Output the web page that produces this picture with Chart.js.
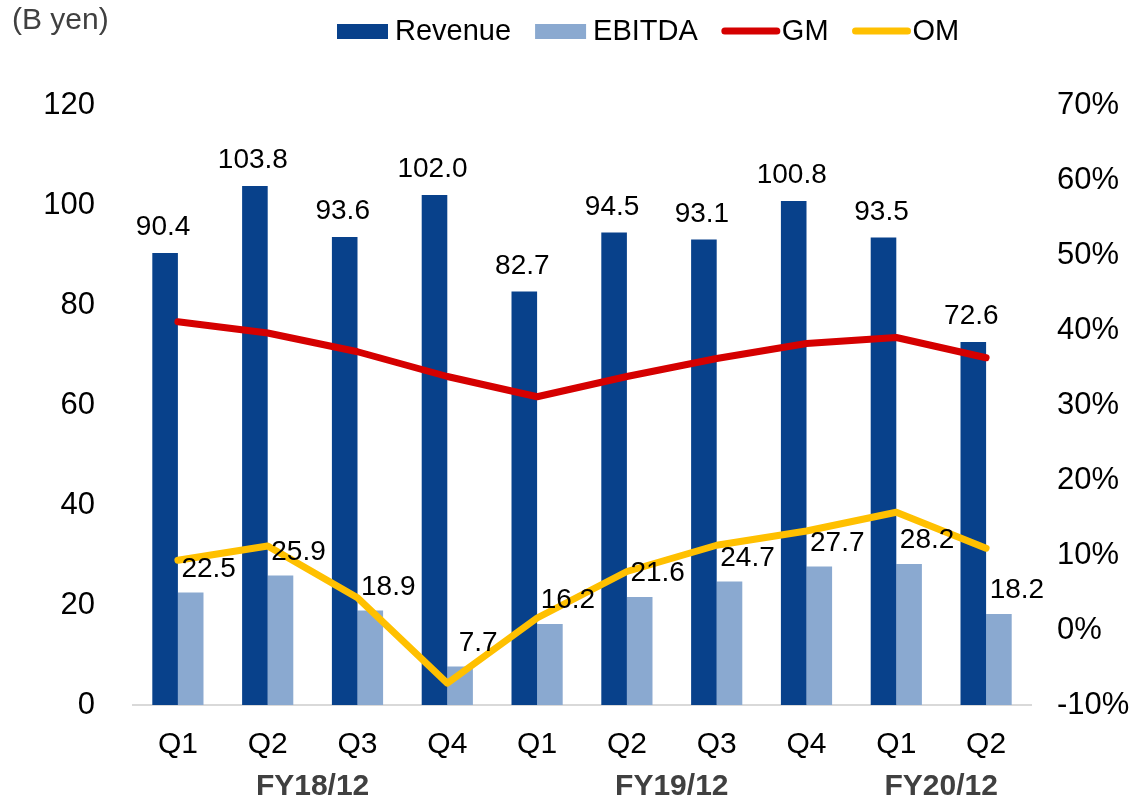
<!DOCTYPE html>
<html>
<head>
<meta charset="utf-8">
<script src="https://cdn.jsdelivr.net/npm/chart.js@4"></script>
<style>
  html, body { margin: 0; padding: 0; background: #fff; }
  #wrap { width: 1137px; height: 800px; position: relative; }
</style>
</head>
<body>
<div id="wrap"><canvas id="myChart" width="1137" height="800"></canvas></div>
<script>
// data
var quarters = ["Q1", "Q2", "Q3", "Q4", "Q1", "Q2", "Q3", "Q4", "Q1", "Q2"];
var fyNames = ["FY18/12", "FY19/12", "FY20/12"];
var fyFirst = [0, 4, 8];
var fyLast = [3, 7, 9];
var revenue = [90.4, 103.8, 93.6, 102.0, 82.7, 94.5, 93.1, 100.8, 93.5, 72.6];
var ebitda = [22.5, 25.9, 18.9, 7.7, 16.2, 21.6, 24.7, 27.7, 28.2, 18.2];
var gm = [41.1, 39.6, 37.1, 33.8, 31.1, 33.8, 36.2, 38.2, 39.0, 36.3];
var om = [9.3, 11.2, 4.3, -7.1, 1.6, 7.8, 11.3, 13.2, 15.7, 10.9];
var leftTicks = { min: 0, max: 120, step: 20 };
var rightTicks = { min: -10, max: 70, step: 10 };

var FONT = "Arial, 'Liberation Sans', sans-serif";

// 値ラベル、凡例、年度ラベル
var extras = {
  id: 'extras',
  afterDatasetsDraw: function(chart) {
    var c = chart.ctx;
    c.save();
    c.font = "28px " + FONT;
    c.fillStyle = "#000";
    c.textAlign = "center";
    c.textBaseline = "alphabetic";
    chart.getDatasetMeta(0).data.forEach(function(bar, i) {
      c.fillText(revenue[i].toFixed(1), bar.x - 2, bar.y - 18);
    });
    chart.getDatasetMeta(1).data.forEach(function(bar, i) {
      c.fillText(ebitda[i].toFixed(1), bar.x + 18, bar.y - 16);
    });
    c.restore();
  },
  afterDraw: function(chart) {
    var c = chart.ctx;
    var xs = chart.scales.x;
    c.save();
    // (B yen)
    c.font = "30px " + FONT;
    c.fillStyle = "#404040";
    c.textBaseline = "middle";
    c.textAlign = "left";
    c.fillText("(B yen)", 12, 21);

    // legend
    c.font = "29px " + FONT;
    var x = 337, y = 31;
    chart.data.datasets.forEach(function(ds) {
      if (ds.type === 'line') {
        c.strokeStyle = ds.borderColor;
        c.lineWidth = 7;
        c.lineCap = 'round';
        c.beginPath();
        c.moveTo(x + 3, y);
        c.lineTo(x + 55, y);
        c.stroke();
        x += 60;
      } else {
        c.fillStyle = ds.backgroundColor;
        c.fillRect(x, y - 7, 51, 15);
        x += 58;
      }
      c.fillStyle = "#000";
      c.fillText(ds.label, x, y + 1);
      x += c.measureText(ds.label).width + 24;
    });

    // fiscal year labels
    c.font = "bold 30px " + FONT;
    c.fillStyle = "#404040";
    c.textAlign = "center";
    fyNames.forEach(function(name, k) {
      var cx = (xs.getPixelForValue(fyFirst[k]) + xs.getPixelForValue(fyLast[k])) / 2;
      c.fillText(name, cx, 787);
    });
    c.restore();
  }
};

var ctx = document.getElementById('myChart').getContext('2d');
var myChart = new Chart(ctx, {
  type: 'bar',
  data: {
    labels: quarters,
    datasets: [
      { label: 'Revenue', data: revenue, yAxisID: 'y', order: 1,
        backgroundColor: '#08418b', categoryPercentage: 0.57, barPercentage: 1 },
      { label: 'EBITDA', data: ebitda, yAxisID: 'y', order: 1,
        backgroundColor: '#8aa9d0', categoryPercentage: 0.57, barPercentage: 1 },
      { type: 'line', label: 'GM', data: gm, yAxisID: 'y1', order: 0,
        borderColor: '#d50000', backgroundColor: '#d50000', borderWidth: 7,
        pointRadius: 0, borderCapStyle: 'round', borderJoinStyle: 'round', tension: 0 },
      { type: 'line', label: 'OM', data: om, yAxisID: 'y1', order: 0,
        borderColor: '#ffc000', backgroundColor: '#ffc000', borderWidth: 7,
        pointRadius: 0, borderCapStyle: 'round', borderJoinStyle: 'round', tension: 0 }
    ]
  },
  options: {
    responsive: false,
    animation: false,
    layout: { padding: { top: 105, left: 0, right: 0, bottom: 0 } },
    plugins: { legend: { display: false }, tooltip: { enabled: false } },
    scales: {
      x: {
        grid: { display: false, drawTicks: false },
        border: { display: true, color: '#d9d9d9', width: 2 },
        ticks: { color: '#000', font: { size: 30, family: FONT }, padding: 22, maxRotation: 0 },
        afterFit: function(s) { s.height = 95; }
      },
      y: {
        position: 'left',
        min: leftTicks.min, max: leftTicks.max,
        grid: { display: false, drawTicks: false },
        border: { display: false },
        ticks: { stepSize: leftTicks.step, color: '#000', font: { size: 31, family: FONT }, padding: 38 },
        afterFit: function(s) { s.width = 133; }
      },
      y1: {
        position: 'right',
        min: rightTicks.min, max: rightTicks.max,
        grid: { display: false, drawTicks: false },
        border: { display: false },
        ticks: { stepSize: rightTicks.step, color: '#000', font: { size: 31, family: FONT }, padding: 26,
          callback: function(v) { return v + '%'; } },
        afterFit: function(s) { s.width = 106; }
      }
    }
  },
  plugins: [extras]
});
</script>
</body>
</html>
